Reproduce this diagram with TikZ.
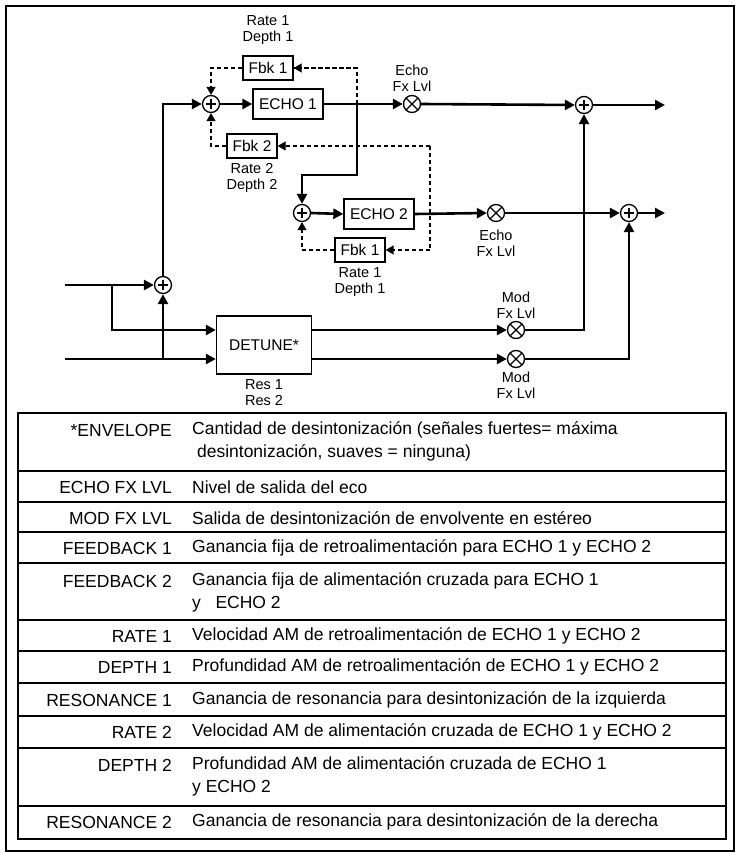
\documentclass[tikz,border=0pt]{standalone}
\usepackage{fontspec}
\setmainfont{Liberation Sans}
\usetikzlibrary{arrows.meta}
\begin{document}
\begin{tikzpicture}[x=1pt,y=-1pt,
  sig/.style={line width=2.6pt},
  fb/.style={line width=1.1pt,dash pattern=on 4pt off 3pt},
  tip/.style={-{Triangle[length=10pt,width=10pt]}},
  stip/.style={-{Triangle[length=8pt,width=9pt]}},
  box/.style={draw,line width=1.3pt,fill=white,inner sep=0pt,font=\fontsize{15.5}{17}\selectfont},
  lbl/.style={align=center,font=\fontsize{14.5}{16}\selectfont,inner sep=0pt},
  sum/.style={circle,draw,line width=1.3pt,fill=white,minimum size=17pt,inner sep=0pt,
    path picture={\draw[line width=1.2pt] ([xshift=-5pt]path picture bounding box.center)--([xshift=5pt]path picture bounding box.center)
      ([yshift=-5pt]path picture bounding box.center)--([yshift=5pt]path picture bounding box.center);}},
  mul/.style={circle,draw,line width=1.3pt,fill=white,minimum size=17pt,inner sep=0pt,
    path picture={\draw[line width=1.2pt] ([shift={(-6pt,-6pt)}]path picture bounding box.center)--([shift={(6pt,6pt)}]path picture bounding box.center)
      ([shift={(-6pt,6pt)}]path picture bounding box.center)--([shift={(6pt,-6pt)}]path picture bounding box.center);}},
  tl/.style={anchor=east,inner sep=0pt,font=\fontsize{17.5}{21}\selectfont},
  td/.style={anchor=west,inner sep=0pt,align=left,font=\fontsize{17.5}{23}\selectfont},
]
\useasboundingbox (0,0) rectangle (740,853);
\draw[line width=1.2pt] (6,6) rectangle (734,851);
% nodes
\node[sum] (s1) at (211,104) {};
\node[box,minimum width=70pt,minimum height=30pt] (e1) at (288,104) {ECHO 1};
\node[box,minimum width=50pt,minimum height=24pt] (f1) at (268,68) {Fbk 1};
\node[box,minimum width=50pt,minimum height=24pt] (f2) at (252,146) {Fbk 2};
\node[mul] (m1) at (412,104) {};
\node[sum] (o1) at (584,105) {};
\node[sum] (s2) at (302,213) {};
\node[box,minimum width=70pt,minimum height=30pt] (e2) at (379,214) {ECHO 2};
\node[box,minimum width=50pt,minimum height=24pt] (f3) at (360,250) {Fbk 1};
\node[mul] (m2) at (496,213) {};
\node[sum] (o2) at (629,213) {};
\node[sum] (s3) at (163,285) {};
\node[box,minimum width=95pt,minimum height=58pt] (det) at (264,345) {DETUNE*};
\node[mul] (n1) at (516,330) {};
\node[mul] (n2) at (516,359) {};
% labels
\node[lbl] (l1) at (268,30) {Rate 1\\Depth 1};
\node[lbl] (l2) at (412,78) {Echo\\Fx Lvl};
\node[lbl] (l3) at (252,178) {Rate 2\\Depth 2};
\node[lbl] (l4) at (496,243) {Echo\\Fx Lvl};
\node[lbl] (l5) at (360,282) {Rate 1\\Depth 1};
\node[lbl] (l6) at (516,305) {Mod\\Fx Lvl};
\node[lbl] (l7) at (516,385) {Mod\\Fx Lvl};
\node[lbl] (l8) at (264,393) {Res 1\\Res 2};
% coordinates
\coordinate (in1) at (65,285);
\coordinate (in2) at (65,359);
\coordinate (b1) at (112,285);
\coordinate (b2) at (163,359);
\coordinate (t1) at (357,104);
\coordinate (t2) at (430,213);
\coordinate (out1) at (665,105);
\coordinate (out2) at (665,213);
% dashed feedback
\draw[fb] (t1) |- (f1.east);
\draw[fb,stip] (t1 |- f1.east) -- (f1.east);
\draw[fb,stip] (f1.west) -| (s1.north);
\draw[fb] (t2 |- f2.east) -- (t2 |- f3.east);
\draw[fb,stip] (t2 |- f2.east) -- (f2.east);
\draw[fb,stip] (t2 |- f3.east) -- (f3.east);
\draw[fb,stip] (f2.west) -| (s1.south);
\draw[fb,stip] (f3.west) -| (s2.south);
% signal paths
\draw[sig,tip] (in1) -- (s3.west);
\draw[sig,tip] (s3.north) |- (s1.west);
\draw[sig,tip] (b1) |- (det.west |- n1);
\draw[sig,tip] (in2) -- (det.west |- in2);
\draw[sig,tip] (b2) -- (s3.south);
\draw[sig,tip] (s1.east) -- (e1.west);
\draw[sig,tip] (e1.east) -- (m1.west);
\draw[sig,tip] (m1.east) -- (o1.west);
\draw[sig,tip] (o1.east) -- (out1);
\draw[sig,tip] (t1) -- (357,175) -| (s2.north);
\draw[sig,tip] (s2.east) -- (e2.west);
\draw[sig,tip] (e2.east) -- (m2.west);
\draw[sig,tip] (m2.east) -- (o2.west);
\draw[sig,tip] (o2.east) -- (out2);
\draw[sig,tip] (det.east |- n1) -- (n1.west);
\draw[sig,tip] (det.east |- n2) -- (n2.west);
\draw[sig,tip] (n1.east) -| (o1.south);
\draw[sig,tip] (n2.east) -| (o2.south);
% table
\draw[line width=2.2pt] (18,413) rectangle (726,839);
\foreach \y in {471,502,532,563,620,651,683,716,748,806}
  \draw[line width=1.2pt] (18,\y) -- (726,\y);
\node[tl] (a1) at (172,430) {*ENVELOPE};
\node[td,anchor=north west] (d1) at (192,421) {Cantidad de desintonización (señales fuertes= máxima\\\ desintonización, suaves = ninguna)};
\node[tl] (a2) at (172,487) {ECHO FX LVL};
\node[td] (d2) at (192,487) {Nivel de salida del eco};
\node[tl] (a3) at (172,518) {MOD FX LVL};
\node[td] (d3) at (192,518) {Salida de desintonización de envolvente en estéreo};
\node[tl] (a4) at (172,548) {FEEDBACK 1};
\node[td] (d4) at (192,548) {Ganancia fija de retroalimentación para ECHO 1 y ECHO 2};
\node[tl] (a5) at (172,581) {FEEDBACK 2};
\node[td,anchor=north west] (d5) at (192,572) {Ganancia fija de alimentación cruzada para ECHO 1\\y \ \ ECHO 2};
\node[tl] (a6) at (172,636) {RATE 1};
\node[td] (d6) at (192,636) {Velocidad AM de retroalimentación de ECHO 1 y ECHO 2};
\node[tl] (a7) at (172,667) {DEPTH 1};
\node[td] (d7) at (192,667) {Profundidad AM de retroalimentación de ECHO 1 y ECHO 2};
\node[tl] (a8) at (172,700) {RESONANCE 1};
\node[td] (d8) at (192,700) {Ganancia de resonancia para desintonización de la izquierda};
\node[tl] (a9) at (172,732) {RATE 2};
\node[td] (d9) at (192,732) {Velocidad AM de alimentación cruzada de ECHO 1 y ECHO 2};
\node[tl] (a10) at (172,765) {DEPTH 2};
\node[td,anchor=north west] (d10) at (192,756) {Profundidad AM de alimentación cruzada de ECHO 1\\y ECHO 2};
\node[tl] (a11) at (172,822) {RESONANCE 2};
\node[td] (d11) at (192,822) {Ganancia de resonancia para desintonización de la derecha};
\end{tikzpicture}
\end{document}
